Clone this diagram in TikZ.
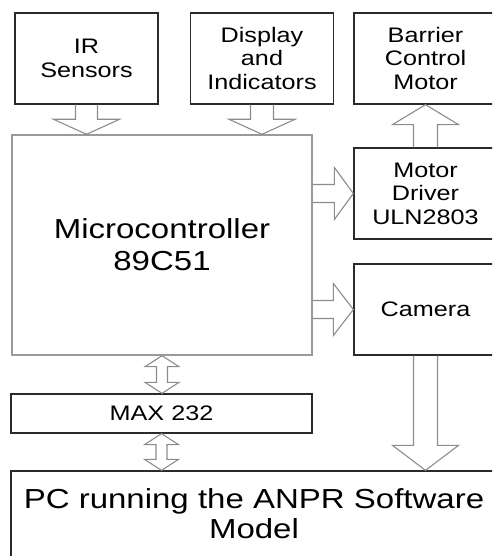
\documentclass[tikz,border=0pt]{standalone}
\usepackage{fontspec}
\setmainfont{Liberation Sans}[FakeStretch=1.2]
\usetikzlibrary{calc}
\definecolor{boxline}{HTML}{2A2A2A}
\definecolor{arrowgray}{HTML}{8C8C8C}
\definecolor{mcugray}{HTML}{9A9A9A}

% hollow block arrows: from, to, shaft half width, head half width, head length
\newcommand{\vblock}[5]{%
  \draw[blk] let \p1=#1, \p2=#2, \n1={#5*sign(\y2-\y1)} in
    ({\x1-#3pt},\y1) -- ({\x1-#3pt},{\y2-\n1}) -- ({\x1-#4pt},{\y2-\n1})
    -- (\x1,\y2) -- ({\x1+#4pt},{\y2-\n1}) -- ({\x1+#3pt},{\y2-\n1})
    -- ({\x1+#3pt},\y1);}
\newcommand{\hblock}[5]{%
  \draw[blk] let \p1=#1, \p2=#2 in
    (\x1,{\y1+#3pt}) -- ({\x2-#5pt},{\y1+#3pt}) -- ({\x2-#5pt},{\y1+#4pt}) -- (\x2,\y1)
    -- ({\x2-#5pt},{\y1-#4pt}) -- ({\x2-#5pt},{\y1-#3pt}) -- (\x1,{\y1-#3pt});}
\newcommand{\dblock}[5]{%
  \draw[blk] let \p1=#1, \p2=#2 in
    (\x1,\y1) -- ({\x1+#4pt},{\y1-#5pt}) -- ({\x1+#3pt},{\y1-#5pt}) -- ({\x1+#3pt},{\y2+#5pt})
    -- ({\x1+#4pt},{\y2+#5pt}) -- (\x1,\y2) -- ({\x1-#4pt},{\y2+#5pt}) -- ({\x1-#3pt},{\y2+#5pt})
    -- ({\x1-#3pt},{\y1-#5pt}) -- ({\x1-#4pt},{\y1-#5pt}) -- cycle;}

\begin{document}
\begin{tikzpicture}[x=1pt, y=1pt,
    blockbox/.style={draw=boxline, line width=1.3pt, minimum width=143pt,
                     minimum height=91pt, inner sep=0pt, align=center,
                     font=\fontsize{21}{23.5}\selectfont},
    mcubox/.style={draw=mcugray, line width=1.4pt, minimum width=300pt,
                   minimum height=220pt, inner sep=0pt, align=center,
                   font=\fontsize{27.5}{32}\selectfont},
    blk/.style={draw=arrowgray, line width=1.1pt, line join=miter},
]
    \useasboundingbox (0,0) rectangle (492,556);
    \clip (0,0) rectangle (492,556);

    % top row
    \node[blockbox] (ir)   at (86.5, 497.5) {IR\\Sensors};
    \node[blockbox] (disp) at (262, 497.5)  {Display\\and\\Indicators};
    \node[blockbox] (bar)  at (425.5, 497.5) {Barrier\\Control\\Motor};

    % right column
    \node[blockbox] (drv) at (425.5, 362.5) {Motor\\Driver\\ULN2803};
    \node[blockbox] (cam) at (425.5, 246.5) {Camera};

    % controller and serial link
    \node[mcubox] (mcu) at (162, 311) {Microcontroller\\89C51};
    \node[blockbox, minimum width=301pt, minimum height=39pt] (max) at (161.5, 142.5) {MAX 232};

    \node[blockbox, minimum width=486pt, minimum height=86pt,
          font=\fontsize{27.5}{30}\selectfont] (pc) at (254, 42)
          {PC running the ANPR Software\\Model};

    % arrows
    \vblock{(ir.south)}{(mcu.north)}{11}{33}{15}
    \vblock{(disp.south)}{(mcu.north)}{11.5}{33}{15}
    \vblock{(drv.north)}{(bar.south)}{12}{33}{20}
    \vblock{(cam.south)}{(cam.south |- pc.north)}{12}{33}{25}
    \hblock{(mcu.east |- drv.west)}{(drv.west)}{9}{26}{19}
    \hblock{(mcu.east |- cam.west)}{(cam.west)}{9}{26}{20}
    \dblock{(mcu.south)}{(max.north)}{5.5}{17}{11}
    \dblock{(max.south)}{(max.south |- pc.north)}{5.5}{17}{11}
\end{tikzpicture}
\end{document}
